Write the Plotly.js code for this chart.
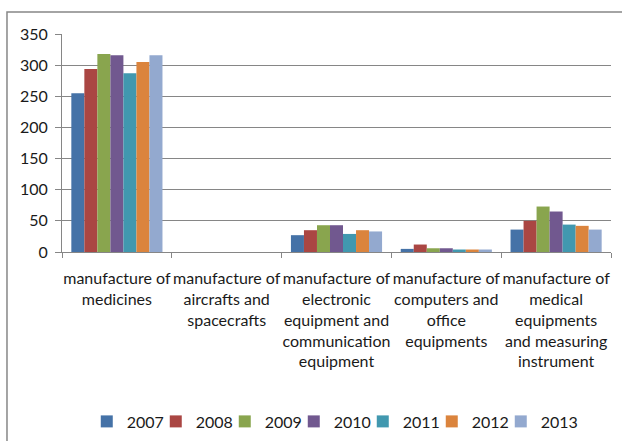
<!DOCTYPE html>
<html>
<head>
<meta charset="utf-8">
<script src="https://cdn.plot.ly/plotly-3.0.1.min.js"></script>
<style>html,body{margin:0;padding:0;background:#fff;}#chart{width:622px;height:441px;}</style>
</head>
<body>
<div id="chart"></div>
<script>
const categories = ["medicines", "aircrafts", "electronic", "computers", "medical"];
const tickLabels = [
  "manufacture of<br>medicines",
  "manufacture of<br>aircrafts and<br>spacecrafts",
  "manufacture of<br>electronic<br>equipment and<br>communication<br>equipment",
  "manufacture of<br>computers and<br>office<br>equipments",
  "manufacture of<br>medical<br>equipments<br>and measuring<br>instrument"
];
const years = ["2007", "2008", "2009", "2010", "2011", "2012", "2013"];
const v2007 = [255, 0, 27, 5, 36];
const v2008 = [294, 0, 35, 12, 50];
const v2009 = [318, 0, 43, 6, 73];
const v2010 = [316, 0, 43, 6, 65];
const v2011 = [287, 0, 29, 4, 44];
const v2012 = [305, 0, 35, 4, 42];
const v2013 = [316, 0, 33, 4, 36];
const series = [v2007, v2008, v2009, v2010, v2011, v2012, v2013];
const colors = ["#4572A7", "#AA4643", "#89A54E", "#71588F", "#4198AF", "#DB843D", "#93A9CF"];

const traces = years.map((y, i) => ({
  type: "bar",
  name: y,
  x: categories,
  y: series[i],
  marker: {color: colors[i], line: {width: 0}},
  hoverinfo: "x+y+name"
}));

const font = {family: "Lato, 'Open Sans', sans-serif", size: 16, color: "#1a1a1a"};

const layout = {
  width: 622,
  height: 441,
  margin: {l: 62, r: 11, t: 34, b: 189, autoexpand: false},
  paper_bgcolor: "#ffffff",
  plot_bgcolor: "#ffffff",
  font: font,
  barmode: "group",
  bargap: 0.17,
  bargroupgap: 0,
  showlegend: true,
  legend: {
    orientation: "h",
    x: 0.485, xanchor: "center",
    y: -0.7775, yanchor: "middle",
    font: font,
    bgcolor: "rgba(0,0,0,0)",
    entrywidth: 24, entrywidthmode: "pixels",
    itemwidth: 30,
    traceorder: "normal"
  },
  xaxis: {
    type: "category",
    tickvals: categories,
    ticktext: tickLabels,
    tickangle: 0,
    ticks: "outside",
    tickson: "boundaries",
    ticklen: 5,
    tickcolor: "#868686",
    showline: true,
    linecolor: "#868686",
    linewidth: 1,
    showgrid: false,
    zeroline: false,
    tickfont: font,
    ticklabelstandoff: 12,
    automargin: false
  },
  yaxis: {
    range: [0, 350],
    dtick: 50,
    tick0: 0,
    ticks: "outside",
    ticklen: 6,
    tickcolor: "#868686",
    showline: true,
    linecolor: "#868686",
    linewidth: 1,
    showgrid: true,
    gridcolor: "#868686",
    gridwidth: 1,
    zeroline: false,
    tickfont: font,
    ticklabelstandoff: 4,
    automargin: false
  },
  shapes: [{
    type: "rect",
    xref: "paper", yref: "paper",
    x0: -0.1002, x1: 1.2,
    y0: -1.2, y1: 1.1009,
    line: {color: "#878787", width: 1.5},
    fillcolor: "rgba(0,0,0,0)",
    layer: "below"
  }]
};

Plotly.newPlot("chart", traces, layout, {displayModeBar: false, staticPlot: true}).then(function (gd) {
  gd.querySelectorAll(".legend .scrollbox, .legend").forEach(function (el) {
    el.removeAttribute("clip-path");
    el.style.clipPath = "none";
  });
});
</script>
</body>
</html>
